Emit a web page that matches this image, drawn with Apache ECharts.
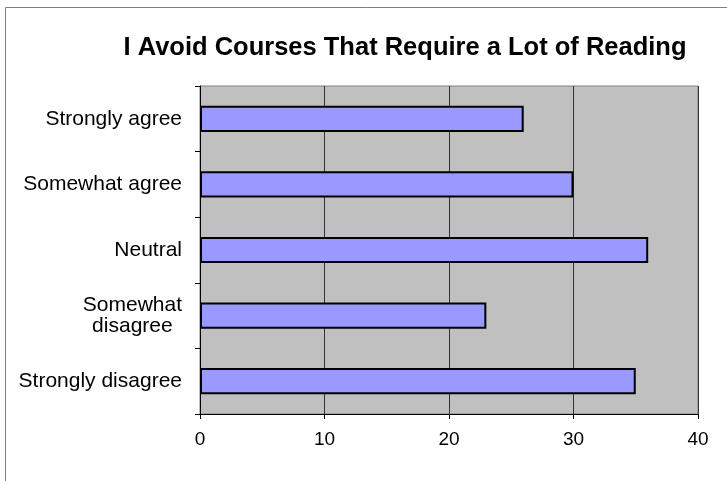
<!DOCTYPE html>
<html>
<head>
<meta charset="utf-8">
<script src="https://cdn.jsdelivr.net/npm/echarts@6/dist/echarts.min.js"></script>
<style>
html,body{margin:0;padding:0;background:#fff;}
#chart{width:727px;height:481px;}
</style>
</head>
<body>
<div id="chart"></div>
<script>
var titleText = 'I Avoid Courses That Require a Lot of Reading';
var categories = ['Strongly agree', 'Somewhat agree', 'Neutral', 'Somewhat\ndisagree', 'Strongly disagree'];
var values = [26, 30, 36, 23, 35];
var xTicks = [0, 10, 20, 30, 40];

var chart = echarts.init(document.getElementById('chart'), null, {renderer: 'canvas'});
var font = 'Liberation Sans, Arial, sans-serif';
chart.setOption({
  animation: false,
  backgroundColor: '#ffffff',
  title: {
    text: titleText,
    left: 400,
    top: 30,
    textAlign: 'center',
    textStyle: {fontFamily: font, fontSize: 25.5, fontWeight: 'bold', color: '#000'}
  },
  graphic: [{
    type: 'rect',
    shape: {x: 5.5, y: 7.5, width: 900, height: 600},
    style: {fill: 'none', stroke: '#808080', lineWidth: 1},
    z: -10
  }],
  grid: {left: 200, right: 29, top: 86, bottom: 67, show: true, backgroundColor: '#C0C0C0', borderColor: '#808080', borderWidth: 1},
  xAxis: {
    type: 'value', min: xTicks[0], max: xTicks[xTicks.length - 1], interval: 10,
    axisLine: {show: true, lineStyle: {color: '#000'}},
    axisTick: {show: true, length: 5, lineStyle: {color: '#000'}},
    axisLabel: {margin: 16, fontFamily: font, fontSize: 19, color: '#000'},
    splitLine: {show: true, lineStyle: {color: '#333', width: 1}}
  },
  yAxis: {
    type: 'category', data: categories, inverse: true,
    axisLine: {show: true, lineStyle: {color: '#000'}},
    axisTick: {show: true, length: 5, lineStyle: {color: '#000'}},
    axisLabel: {
      margin: 18, fontFamily: font, fontSize: 21, color: '#000', lineHeight: 21,
      formatter: function (v) { return v.indexOf('\n') >= 0 ? '{c|' + v + '}' : v; },
      rich: {c: {align: 'center', fontFamily: font, fontSize: 21, color: '#000', lineHeight: 21}}
    }
  },
  series: [{
    type: 'bar',
    data: values,
    barCategoryGap: '60%',
    itemStyle: {color: '#9999FF', borderColor: '#000', borderWidth: 2}
  }]
});
</script>
</body>
</html>
